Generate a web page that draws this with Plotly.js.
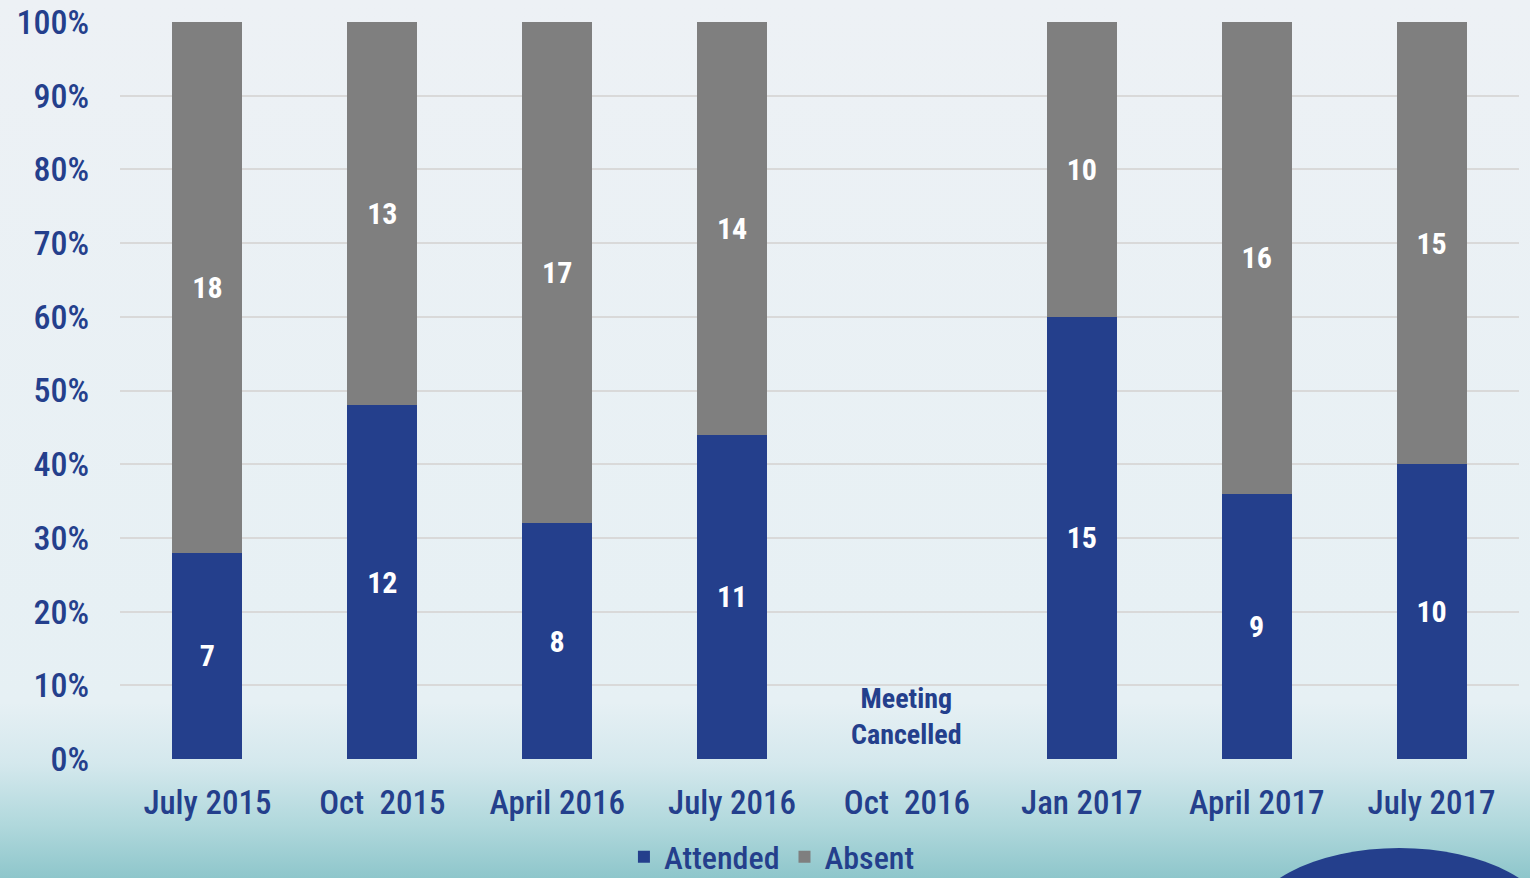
<!DOCTYPE html>
<html>
<head>
<meta charset="utf-8">
<script src="https://cdn.plot.ly/plotly-3.0.1.min.js"></script>
<style>
  html, body { margin: 0; padding: 0; width: 1530px; height: 878px; overflow: hidden; }
  body { background: linear-gradient(to bottom, #edf1f5 0%, #e6f0f4 80%, #d4e8ed 87%, #b0d8dc 94%, #8ec6cb 100%); }
  #chart { width: 1530px; height: 878px; }
</style>
</head>
<body>
<div id="chart"></div>
<script>
const categories = ["July 2015", "Oct\u00a0 2015", "April 2016", "July 2016", "Oct\u00a0 2016", "Jan 2017", "April 2017", "July 2017"];
const attended = [7, 12, 8, 11, null, 15, 9, 10];
const absent = [18, 13, 17, 14, null, 10, 16, 15];
const yTicks = [0, 10, 20, 30, 40, 50, 60, 70, 80, 90, 100];
const yTickLabels = yTicks.map(v => v + "%");
const cancelledCategory = "Oct\u00a0 2016";
const cancelledText = "Meeting<br>Cancelled";

const FONT = '"Roboto Condensed", "DejaVu Sans Condensed", sans-serif';
const BLUE = "#243f8c";
const GRAY = "#7f7f7f";

const traces = [
  {
    type: "bar", name: "Attended", x: categories, y: attended,
    marker: { color: BLUE },
    text: attended.map(v => v == null ? "" : String(v)),
    textposition: "inside", insidetextanchor: "middle",
    textfont: { family: FONT, size: 30, color: "#ffffff", weight: "bold" },
    hoverinfo: "x+y"
  },
  {
    type: "bar", name: "Absent", x: categories, y: absent,
    marker: { color: GRAY },
    text: absent.map(v => v == null ? "" : String(v)),
    textposition: "inside", insidetextanchor: "middle",
    textfont: { family: FONT, size: 30, color: "#ffffff", weight: "bold" },
    hoverinfo: "x+y"
  }
];

const layout = {
  width: 1530, height: 878,
  paper_bgcolor: "rgba(0,0,0,0)", plot_bgcolor: "rgba(0,0,0,0)",
  margin: { l: 119.5, r: 10.5, t: 22, b: 119, autoexpand: false },
  barmode: "stack", barnorm: "percent", bargap: 0.6,
  font: { family: FONT, color: BLUE },
  xaxis: {
    type: "category", range: [-0.5, 7.5],
    tickfont: { family: FONT, size: 33, color: BLUE, weight: 500 },
    showgrid: false, zeroline: false, showline: false, ticks: "",
    ticklabelstandoff: 21
  },
  yaxis: {
    range: [0, 100], tickvals: yTicks, ticktext: yTickLabels,
    tickfont: { family: FONT, size: 34, color: BLUE, weight: 500 },
    showgrid: true, gridcolor: "#d9d9d9", gridwidth: 2,
    zeroline: false, showline: false, ticks: "", ticklabelstandoff: 30
  },
  legend: {
    orientation: "h", traceorder: "normal",
    x: 0.466, xanchor: "center", y: -0.133, yanchor: "middle",
    font: { family: FONT, size: 32, color: BLUE, weight: 500 }, bgcolor: "rgba(0,0,0,0)",
    itemwidth: 30
  },
  annotations: [
    {
      x: cancelledCategory, xref: "x", y: 5.8, yref: "y",
      text: cancelledText, showarrow: false,
      font: { family: FONT, size: 28, color: BLUE, weight: "bold" }
    }
  ],
  shapes: [
    {
      type: "circle", xref: "paper", yref: "paper",
      x0: 0.804, x1: 1.025, y0: -0.343, y1: -0.1208,
      fillcolor: BLUE, line: { width: 0 }, layer: "below"
    }
  ]
};

Plotly.newPlot("chart", traces, layout, { displayModeBar: false, staticPlot: true });
</script>
</body>
</html>
